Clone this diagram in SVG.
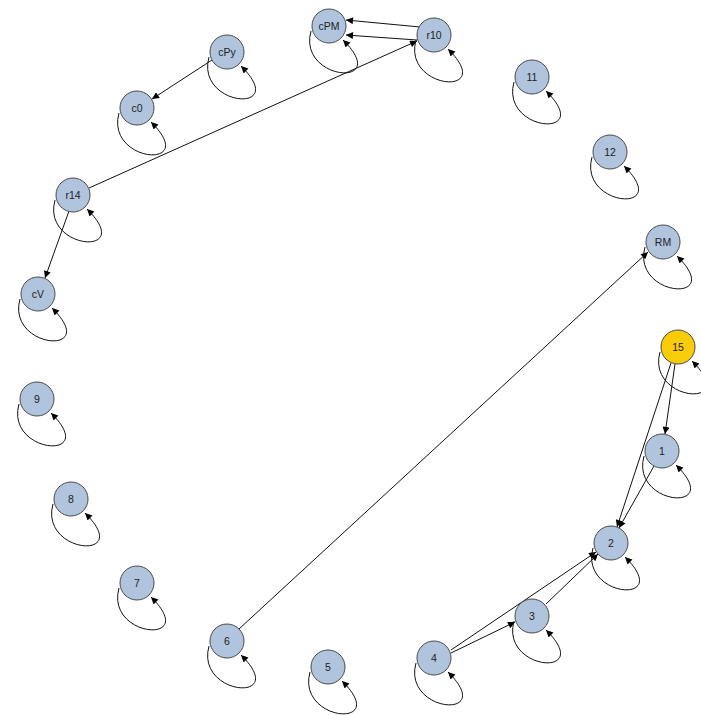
<svg xmlns="http://www.w3.org/2000/svg" width="701" height="715" viewBox="0 0 701 715">
<style>
.n circle{fill:#b0c4de;stroke:#4a4a4a;stroke-width:1}
.n.y circle{fill:#f9cc0a}
.n text{font-family:"Liberation Sans",Arial,sans-serif;font-size:10.5px;fill:#222;text-anchor:middle;dominant-baseline:central}
.e path,.lp{fill:none;stroke:#111;stroke-width:1;marker-end:url(#a)}
</style>
<defs>
<marker id="a" viewBox="0 0 10 10" refX="10" refY="5" markerWidth="9" markerHeight="7" markerUnits="userSpaceOnUse" orient="auto">
<path d="M0,0 L10,5 L0,10 z" fill="#000" stroke="none"/>
</marker>
<path id="loop" class="lp" d="M-18,5 C-32,55 64,63 14,14"/>
</defs>
<rect width="701" height="715" fill="#fff"/>
<g id="connectors" class="e">
<path d="M420,27 L346,20"/>
<path d="M417,40 L346,35"/>
<path d="M89,188 L417,41"/>
<path d="M212,60 L152,99"/>
<path d="M69,211 L45,278"/>
<path d="M239,629 L648,252"/>
<path d="M675,364 L665,434"/>
<path d="M671,363 L617,527"/>
<path d="M654,466 L619,528"/>
<path d="M546,604 L598,554"/>
<path d="M451,650 L596,552"/>
<path d="M451,653 L515,622"/>
<use href="#loop" transform="translate(329,26)"/>
<use href="#loop" transform="translate(434,35)"/>
<use href="#loop" transform="translate(227,52)"/>
<use href="#loop" transform="translate(137,108)"/>
<use href="#loop" transform="translate(73,195)"/>
<use href="#loop" transform="translate(38,294)"/>
<use href="#loop" transform="translate(37,399)"/>
<use href="#loop" transform="translate(71,499)"/>
<use href="#loop" transform="translate(137,583)"/>
<use href="#loop" transform="translate(227,641)"/>
<use href="#loop" transform="translate(328,667)"/>
<use href="#loop" transform="translate(434,658)"/>
<use href="#loop" transform="translate(532,616)"/>
<use href="#loop" transform="translate(611,543)"/>
<use href="#loop" transform="translate(662,451)"/>
<use href="#loop" transform="translate(678,347)"/>
<use href="#loop" transform="translate(663,242)"/>
<use href="#loop" transform="translate(610,152)"/>
<use href="#loop" transform="translate(532,77)"/>
</g>
<g id="n-cPM" class="n"><circle cx="329" cy="26" r="17"/><text x="329" y="26">cPM</text></g>
<g id="n-r10" class="n"><circle cx="434" cy="35" r="17"/><text x="434" y="35">r10</text></g>
<g id="n-cPy" class="n"><circle cx="227" cy="52" r="17"/><text x="227" y="52">cPy</text></g>
<g id="n-c0" class="n"><circle cx="137" cy="108" r="17"/><text x="137" y="108">c0</text></g>
<g id="n-r14" class="n"><circle cx="73" cy="195" r="17"/><text x="73" y="195">r14</text></g>
<g id="n-cV" class="n"><circle cx="38" cy="294" r="17"/><text x="38" y="294">cV</text></g>
<g id="n-9" class="n"><circle cx="37" cy="399" r="17"/><text x="37" y="399">9</text></g>
<g id="n-8" class="n"><circle cx="71" cy="499" r="17"/><text x="71" y="499">8</text></g>
<g id="n-7" class="n"><circle cx="137" cy="583" r="17"/><text x="137" y="583">7</text></g>
<g id="n-6" class="n"><circle cx="227" cy="641" r="17"/><text x="227" y="641">6</text></g>
<g id="n-5" class="n"><circle cx="328" cy="667" r="17"/><text x="328" y="667">5</text></g>
<g id="n-4" class="n"><circle cx="434" cy="658" r="17"/><text x="434" y="658">4</text></g>
<g id="n-3" class="n"><circle cx="532" cy="616" r="17"/><text x="532" y="616">3</text></g>
<g id="n-2" class="n"><circle cx="611" cy="543" r="17"/><text x="611" y="543">2</text></g>
<g id="n-1" class="n"><circle cx="662" cy="451" r="17"/><text x="662" y="451">1</text></g>
<g id="n-15" class="n y"><circle cx="678" cy="347" r="17"/><text x="678" y="347">15</text></g>
<g id="n-RM" class="n"><circle cx="663" cy="242" r="17"/><text x="663" y="242">RM</text></g>
<g id="n-12" class="n"><circle cx="610" cy="152" r="17"/><text x="610" y="152">12</text></g>
<g id="n-11" class="n"><circle cx="532" cy="77" r="17"/><text x="532" y="77">11</text></g>
</svg>
